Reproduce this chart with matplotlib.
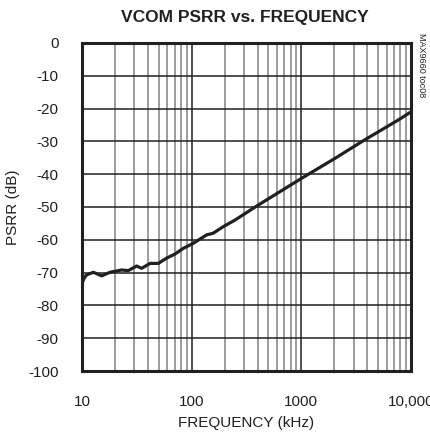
import matplotlib
matplotlib.use("Agg")
import matplotlib.pyplot as plt
from matplotlib.ticker import FixedLocator, NullFormatter, LogLocator

freq_khz = [10, 10.5, 11, 12.7, 15.1, 18, 23, 26.4, 31.5, 35, 41.7, 49.7, 59, 70, 84,
            103, 137, 157, 194, 248, 392, 1000, 2000, 3670, 7640, 10000]
psrr_db = [-73.3, -71.6, -70.7, -69.9, -71.0, -69.9, -69.2, -69.4, -68.0, -68.7, -67.2,
           -67.2, -65.6, -64.4, -62.6, -61.1, -58.5, -58.0, -56.0, -54.0, -49.7, -41.3,
           -35.3, -29.8, -23.5, -21.0]

x_ticks = [10, 100, 1000, 10000]
x_tick_labels = ["10", "100", "1000", "10,000"]
y_ticks = list(range(-100, 1, 10))

title = "VCOM PSRR vs. FREQUENCY"
xlabel = "FREQUENCY (kHz)"
ylabel = "PSRR (dB)"
side_note = "MAX9660 toc08"

plt.rcParams['font.family'] = ['Liberation Sans', 'DejaVu Sans']

fig = plt.figure(figsize=(4.30, 4.32), dpi=100)
ax = fig.add_axes([0.1907, 0.1412, 0.7651, 0.7593])

ink = "#231f20"
ax.plot(freq_khz, psrr_db, color=ink, lw=2.3, solid_joinstyle='round', zorder=3)

ax.set_xscale('log')
ax.set_xlim(10, 10000)
ax.set_ylim(-100, 0)

ax.xaxis.set_major_locator(FixedLocator(x_ticks))
ax.set_xticklabels(x_tick_labels)
ax.xaxis.set_minor_locator(LogLocator(base=10, subs=range(2, 10)))
ax.xaxis.set_minor_formatter(NullFormatter())
ax.set_yticks(y_ticks)
ax.set_yticklabels([str(v) for v in y_ticks])

ax.grid(which='major', axis='both', color=ink, lw=1.1)
ax.grid(which='minor', axis='x', color='#8c8c8c', lw=1.2)
ax.set_axisbelow(True)

ax.tick_params(which='both', length=0, labelsize=11, colors=ink)
ax.tick_params(axis='x', pad=17)
ax.tick_params(axis='y', pad=17)

for sp in ax.spines.values():
    sp.set_linewidth(2.2)
    sp.set_color(ink)

ax.set_xlabel(xlabel, fontsize=11, color=ink, labelpad=5)
ax.set_ylabel(ylabel, fontsize=11, color=ink, labelpad=6)

fig.text(0.5698, 0.960, title, ha='center', va='center', fontsize=12.5,
         fontweight='bold', color=ink)
fig.text(0.980, 0.85, side_note, ha='center', va='center', rotation=270,
         fontsize=6.5, color=ink)

for lab in ax.get_xticklabels():
    lab.set_clip_on(False)

fig.savefig("out.png", dpi=100)
